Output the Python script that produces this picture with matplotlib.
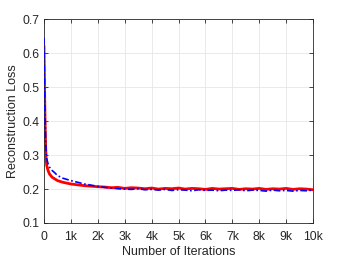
import matplotlib
matplotlib.use("Agg")
import matplotlib.pyplot as plt
import numpy as np

plt.rcParams['font.family'] = ['Liberation Sans', 'DejaVu Sans']

# iterations where the curves were sampled
iters = [0, 20, 40, 60, 80, 100, 150, 200, 300, 400, 500, 700, 1000, 1500, 2000,
         2250, 2500, 2750, 3000, 3250, 3500, 3750, 4000, 4250, 4500, 4750, 5000,
         5250, 5500, 5750, 6000, 6250, 6500, 6750, 7000, 7250, 7500, 7750, 8000,
         8250, 8500, 8750, 9000, 9250, 9500, 9750, 10000]

loss_red = [0.62, 0.50, 0.40, 0.33, 0.29, 0.27, 0.255, 0.245, 0.235, 0.230, 0.225,
            0.220, 0.215, 0.210, 0.207, 0.206, 0.204, 0.205, 0.202, 0.204, 0.203,
            0.201, 0.203, 0.200, 0.202, 0.201, 0.203, 0.200, 0.202, 0.201, 0.199,
            0.202, 0.200, 0.201, 0.202, 0.199, 0.201, 0.200, 0.202, 0.199, 0.201,
            0.200, 0.202, 0.199, 0.201, 0.200, 0.198]

loss_blue = [0.645, 0.52, 0.42, 0.35, 0.31, 0.29, 0.275, 0.265, 0.255, 0.248, 0.240,
             0.232, 0.225, 0.215, 0.208, 0.205, 0.203, 0.201, 0.200, 0.199, 0.201,
             0.198, 0.199, 0.197, 0.199, 0.196, 0.198, 0.197, 0.195, 0.198, 0.196,
             0.197, 0.195, 0.197, 0.196, 0.198, 0.195, 0.197, 0.196, 0.194, 0.197,
             0.195, 0.196, 0.194, 0.196, 0.195, 0.197]

xtick_vals = [0, 1000, 2000, 3000, 4000, 5000, 6000, 7000, 8000, 9000, 10000]
xtick_labels = ['0', '1k', '2k', '3k', '4k', '5k', '6k', '7k', '8k', '9k', '10k']

fig = plt.figure(figsize=(3.45, 2.59), dpi=100)
ax = fig.add_axes([0.1275, 0.139, 0.78, 0.786])

ax.plot(iters, loss_red, color='red', lw=2.0, zorder=2)
ax.plot(iters, loss_blue, color='blue', lw=1.2, ls=(0, (4, 1.5, 1, 1.5)), zorder=3)

ax.set_xlim(0, 10000)
ax.set_ylim(0.1, 0.7)
ax.set_xticks(xtick_vals)
ax.set_xticklabels(xtick_labels)
ax.set_yticks(np.arange(0.1, 0.71, 0.1))
ax.set_yticklabels(['0.1', '0.2', '0.3', '0.4', '0.5', '0.6', '0.7'])

ax.grid(True, color='#e6e6e6', lw=0.6)
ax.set_axisbelow(True)
ax.tick_params(direction='in', length=3, width=0.6, colors='#262626', labelsize=8.7,
               top=True, right=True)
ax.tick_params(axis='x', pad=5.6)
ax.tick_params(axis='y', pad=3)
for s in ax.spines.values():
    s.set_color('#262626')
    s.set_linewidth(0.6)

ax.set_xlabel('Number of Iterations', fontsize=9, color='#262626', labelpad=2.5)
ax.set_ylabel('Reconstruction Loss', fontsize=9, color='#262626', labelpad=3)

fig.savefig('out.png', dpi=100)
